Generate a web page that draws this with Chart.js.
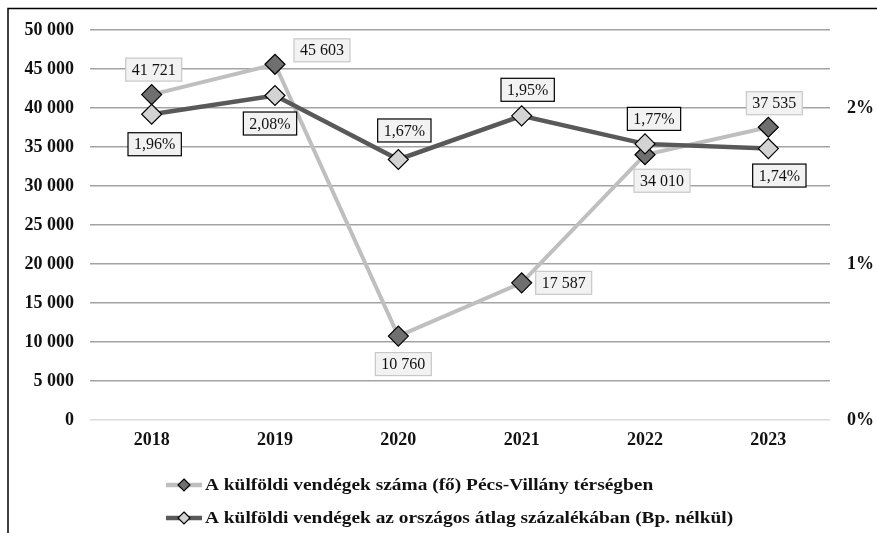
<!DOCTYPE html>
<html>
<head>
<meta charset="utf-8">
<script src="https://cdn.jsdelivr.net/npm/chart.js@4/dist/chart.umd.min.js"></script>
<style>
  html, body { margin: 0; padding: 0; background: #fff; }
  #wrap { width: 877px; height: 533px; position: relative; }
</style>
</head>
<body>
<div id="wrap"><canvas id="chart"></canvas></div>
<script>
const years = ['2018', '2019', '2020', '2021', '2022', '2023'];
const guests = [41721, 45603, 10760, 17587, 34010, 37535];
const percentOfAvg = [1.96, 2.08, 1.67, 1.95, 1.77, 1.74];
const seriesNames = [
    'A külföldi vendégek száma (fő) Pécs-Villány térségben',
    'A külföldi vendégek az országos átlag százalékában (Bp. nélkül)'
];

// label offsets from the point, in pixels
const guestLabelOffsets = [[2, -25], [47, -14], [5, 28], [42, 0], [17, 26], [6, -24]];
const percentLabelOffsets = [[3, 30], [-5, 28], [6, -29], [6, -26], [9, -25], [11, 27]];

const serif = "'Liberation Serif', 'Times New Roman', serif";

function spaced(v) {
    return String(v).replace(/\B(?=(\d{3})+(?!\d))/g, ' ');
}

function pct(v) {
    return v.toFixed(2).replace('.', ',') + '%';
}

const labelPlugin = {
    id: 'boxLabels',
    afterDatasetsDraw(chart) {
        const ctx = chart.ctx;
        ctx.save();
        ctx.font = '16px ' + serif;
        ctx.textAlign = 'center';
        ctx.textBaseline = 'middle';
        chart.data.datasets.forEach(function(ds, di) {
            const meta = chart.getDatasetMeta(di);
            const offsets = di === 0 ? guestLabelOffsets : percentLabelOffsets;
            meta.data.forEach(function(pt, i) {
                const text = di === 0 ? spaced(ds.data[i]) : pct(ds.data[i]);
                const x = pt.x + offsets[i][0];
                const y = pt.y + offsets[i][1];
                const w = ctx.measureText(text).width + 12;
                const h = 23;
                ctx.fillStyle = '#f2f2f2';
                ctx.fillRect(x - w / 2, y - h / 2, w, h);
                ctx.lineWidth = 1.2;
                ctx.strokeStyle = di === 0 ? '#c8c8c8' : '#000';
                ctx.strokeRect(x - w / 2, y - h / 2, w, h);
                ctx.fillStyle = '#111';
                ctx.fillText(text, x, y + 1);
            });
        });
        ctx.restore();
    }
};

const framePlugin = {
    id: 'frameAndLegend',
    afterDraw(chart) {
        const ctx = chart.ctx;
        ctx.save();
        // frame
        ctx.strokeStyle = '#000';
        ctx.lineWidth = 1.5;
        ctx.beginPath();
        ctx.moveTo(8, 533);
        ctx.lineTo(8, 8.5);
        ctx.lineTo(877, 8.5);
        ctx.stroke();

        // legend
        const rows = [485, 518];
        chart.data.datasets.forEach(function(ds, i) {
            const y = rows[i];
            ctx.strokeStyle = ds.borderColor;
            ctx.lineWidth = 4.5;
            ctx.beginPath();
            ctx.moveTo(166, y);
            ctx.lineTo(202, y);
            ctx.stroke();
            ctx.beginPath();
            ctx.moveTo(184, y - 6);
            ctx.lineTo(190, y);
            ctx.lineTo(184, y + 6);
            ctx.lineTo(178, y);
            ctx.closePath();
            ctx.fillStyle = ds.pointBackgroundColor;
            ctx.fill();
            ctx.lineWidth = 1.2;
            ctx.strokeStyle = '#000';
            ctx.stroke();
            ctx.save();
            ctx.translate(205, y + 1);
            ctx.scale(1.14, 1);
            ctx.fillStyle = '#111';
            ctx.font = 'bold 17px ' + serif;
            ctx.textAlign = 'left';
            ctx.textBaseline = 'middle';
            ctx.fillText(seriesNames[i], 0, 0);
            ctx.restore();
        });
        ctx.restore();
    }
};

new Chart(document.getElementById('chart'), {
    type: 'line',
    data: {
        labels: years,
        datasets: [{
            label: seriesNames[0],
            data: guests,
            yAxisID: 'y',
            borderColor: '#bfbfbf',
            borderWidth: 4,
            pointStyle: 'rectRot',
            pointRadius: 10,
            pointBackgroundColor: '#6f6f6f',
            pointBorderColor: '#000',
            pointBorderWidth: 1.2,
            tension: 0,
            order: 1
        }, {
            label: seriesNames[1],
            data: percentOfAvg,
            yAxisID: 'y1',
            borderColor: '#595959',
            borderWidth: 4.5,
            pointStyle: 'rectRot',
            pointRadius: 10,
            pointBackgroundColor: '#d3d3d3',
            pointBorderColor: '#000',
            pointBorderWidth: 1.2,
            tension: 0,
            order: 0
        }]
    },
    options: {
        responsive: true,
        maintainAspectRatio: false,
        animation: false,
        layout: { padding: { left: 0, right: 0, top: 30, bottom: 73 } },
        plugins: {
            legend: { display: false },
            tooltip: { enabled: false }
        },
        scales: {
            x: {
                offset: true,
                grid: { display: false, drawTicks: false },
                border: { display: false },
                ticks: {
                    padding: 10,
                    color: '#111',
                    font: { family: serif, size: 18, weight: 'bold' }
                },
                afterFit: function(s) { s.height = 40; }
            },
            y: {
                position: 'left',
                min: 0,
                max: 50000,
                ticks: {
                    stepSize: 5000,
                    padding: 16,
                    color: '#111',
                    font: { family: serif, size: 18, weight: 'bold' },
                    callback: function(v) { return spaced(v); }
                },
                grid: {
                    drawTicks: false,
                    lineWidth: 1.5,
                    color: function(c) { return c.tick && c.tick.value === 0 ? '#dcdcdc' : '#a3a3a3'; }
                },
                border: { display: false },
                afterFit: function(s) { s.width = 90; }
            },
            y1: {
                position: 'right',
                min: 0,
                max: 2.5,
                ticks: {
                    stepSize: 1,
                    padding: 17,
                    color: '#111',
                    font: { family: serif, size: 18, weight: 'bold' },
                    callback: function(v) { return Number.isInteger(v) ? v + '%' : ''; }
                },
                grid: { display: false, drawTicks: false },
                border: { display: false },
                afterFit: function(s) { s.width = 47; }
            }
        }
    },
    plugins: [labelPlugin, framePlugin]
});
</script>
</body>
</html>
